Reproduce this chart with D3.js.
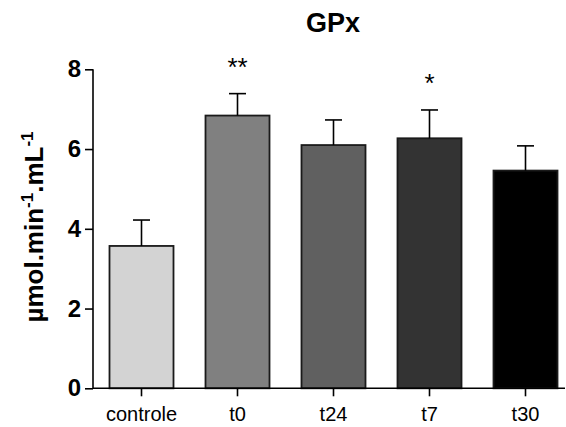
<!DOCTYPE html>
<html>
<head>
<meta charset="utf-8">
<script src="https://cdn.jsdelivr.net/npm/d3@7"></script>
<style>
  body { margin: 0; background: white; }
  text { font-family: "Liberation Sans", Arial, sans-serif; }
</style>
</head>
<body>
<div id="chart"></div>
<script>
// Data
const groups = ["controle", "t0", "t24", "t7", "t30"];
const means = [3.57, 6.84, 6.10, 6.27, 5.46];
const sems = [0.65, 0.55, 0.63, 0.71, 0.62];
const fills = ["#d3d3d3", "#808080", "#606060", "#333333", "#000000"];
const marks = ["", "**", "", "*", ""];
const yTicks = [0, 2, 4, 6, 8];

const width = 566, height = 427;

const svg = d3.select("#chart")
    .append("svg")
    .attr("width", width)
    .attr("height", height);

// Scales
const xScale = d3.scaleBand()
    .domain(groups)
    .range([93.5, 573.5])
    .paddingInner(1 / 3)
    .paddingOuter(1 / 6);

const yScale = d3.scaleLinear()
    .domain([0, 8])
    .range([388.3, 69.3]);

// Bars
svg.selectAll("rect.bar")
    .data(groups)
    .enter().append("rect")
    .attr("class", "bar")
    .attr("x", d => xScale(d))
    .attr("y", (d, i) => yScale(means[i]))
    .attr("width", xScale.bandwidth())
    .attr("height", (d, i) => yScale(0) - yScale(means[i]))
    .attr("fill", (d, i) => fills[i])
    .attr("stroke", "#1a1a1a")
    .attr("stroke-width", 1.8);

// Error bars (upper only) and significance marks
groups.forEach((g, i) => {
    const cx = xScale(g) + xScale.bandwidth() / 2;
    const top = yScale(means[i] + sems[i]);
    svg.append("line")
        .attr("x1", cx).attr("x2", cx)
        .attr("y1", yScale(means[i]))
        .attr("y2", top)
        .attr("stroke", "black")
        .attr("stroke-width", 1.6);
    svg.append("line")
        .attr("x1", cx - 8.5).attr("x2", cx + 8.5)
        .attr("y1", top)
        .attr("y2", top)
        .attr("stroke", "black")
        .attr("stroke-width", 1.6);
    if (marks[i]) {
        svg.append("text")
            .attr("x", cx)
            .attr("y", top - 18)
            .attr("text-anchor", "middle")
            .style("font-size", "26px")
            .text(marks[i]);
    }
});

// Y axis
const yAxis = svg.append("g")
    .attr("transform", "translate(93,0)")
    .call(d3.axisLeft(yScale).tickValues(yTicks).tickSize(8).tickPadding(4).tickFormat(d3.format("d")));
yAxis.selectAll("path, line").attr("stroke", "black").attr("stroke-width", 1.6);
yAxis.select(".domain").attr("d", "M0," + yScale(8) + "V" + yScale(0));
yAxis.selectAll("text")
    .style("font-size", "24px")
    .style("font-weight", "bold")
    .style("font-family", "Liberation Sans, Arial, sans-serif")
    .attr("fill", "black");

// X axis
const xAxis = svg.append("g")
    .attr("transform", "translate(0," + yScale(0) + ")")
    .call(d3.axisBottom(xScale).tickSize(8).tickPadding(11));
xAxis.select(".domain").attr("d", "M93,0H565");
xAxis.selectAll("path, line").attr("stroke", "black").attr("stroke-width", 1.6);
xAxis.selectAll("text")
    .style("font-size", "20px")
    .style("font-family", "Liberation Sans, Arial, sans-serif")
    .attr("fill", "black");

// Title
svg.append("text")
    .attr("x", 333)
    .attr("y", 32)
    .attr("text-anchor", "middle")
    .style("font-size", "27px")
    .style("font-weight", "bold")
    .text("GPx");

// Y axis label
const ylab = svg.append("text")
    .attr("transform", "translate(43,227) rotate(-90)")
    .attr("text-anchor", "middle")
    .style("font-size", "26px")
    .style("font-weight", "bold");
ylab.append("tspan").text("\u00b5mol.min");
ylab.append("tspan").attr("dy", -10).style("font-size", "17px").text("-1");
ylab.append("tspan").attr("dy", 10).text(".mL");
ylab.append("tspan").attr("dy", -10).style("font-size", "17px").text("-1");
</script>
</body>
</html>
